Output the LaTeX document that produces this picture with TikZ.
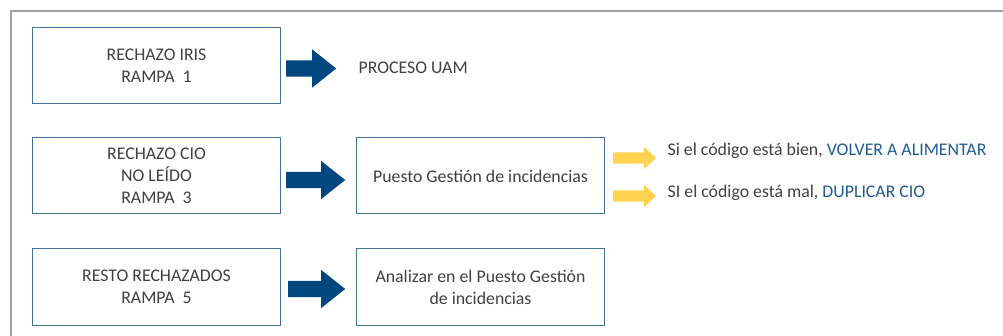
\documentclass[tikz,border=0pt]{standalone}
\usepackage{fontspec}
\setmainfont{Carlito}
\usetikzlibrary{positioning,shapes.arrows}
\definecolor{boxblue}{RGB}{65,113,156}
\definecolor{arrblue}{RGB}{0,70,127}
\definecolor{arryellow}{RGB}{255,210,80}
\definecolor{txtgray}{RGB}{64,64,64}
\definecolor{txtblue}{RGB}{31,90,150}
\definecolor{framegray}{RGB}{160,160,160}

\begin{document}
\begin{tikzpicture}[x=1pt,y=-1pt,node distance=6pt,
  every node/.style={text=txtgray,font=\fontsize{17.8}{22}\selectfont},
  box/.style={draw=boxblue,line width=1pt,align=center,minimum width=248pt,minimum height=76pt},
  bigarr/.style={single arrow,fill=arrblue,inner xsep=0pt,inner ysep=8pt,single arrow head extend=11pt,single arrow tip angle=77},
  smallarr/.style={single arrow,fill=arryellow,inner xsep=0pt,inner ysep=5.5pt,single arrow head extend=5.5pt,single arrow tip angle=85,minimum height=43pt},
  lbl/.style={inner sep=0pt,anchor=west}]
\useasboundingbox (0,0) rectangle (1003,336);
\draw[framegray,line width=1.2pt] (11,336) |- (1003,11);
\node[box] (iris) at (156.5,65.5) {RECHAZO IRIS\\RAMPA\ \ 1};
\node[box] (cio) at (156.5,176) {RECHAZO CIO\\NO LEÍDO\\RAMPA\ \ 3};
\node[box] (resto) at (156.5,287) {RESTO RECHAZADOS\\RAMPA\ \ 5};
\node[box,right=75pt of cio] (puesto) {Puesto Gestión de incidencias};
\node[box,right=75pt of resto] (analizar) {Analizar en el Puesto Gestión\\de incidencias};
% block arrows
\node[bigarr,minimum height=50pt,right=5pt of iris,yshift=-3pt] (a1) {};
\node[bigarr,minimum height=59pt,right=5pt of cio,yshift=-4pt] (a2) {};
\node[bigarr,minimum height=57pt,right=7pt of resto,yshift=-2pt] (a3) {};
\node[lbl,right=22pt of a1,yshift=1pt] (uam) {PROCESO UAM};
\node[smallarr,right=8pt of puesto,yshift=18pt] (y1) {};
\node[smallarr,right=8pt of puesto,yshift=-20pt] (y2) {};
\node[lbl,right=11pt of y1,yshift=7pt] (bien) {Si el código está bien, \textcolor{txtblue}{VOLVER A ALIMENTAR}};
\node[lbl,right=11pt of y2,yshift=3pt] (mal) {SI el código está mal, \textcolor{txtblue}{DUPLICAR CIO}};
\end{tikzpicture}
\end{document}
